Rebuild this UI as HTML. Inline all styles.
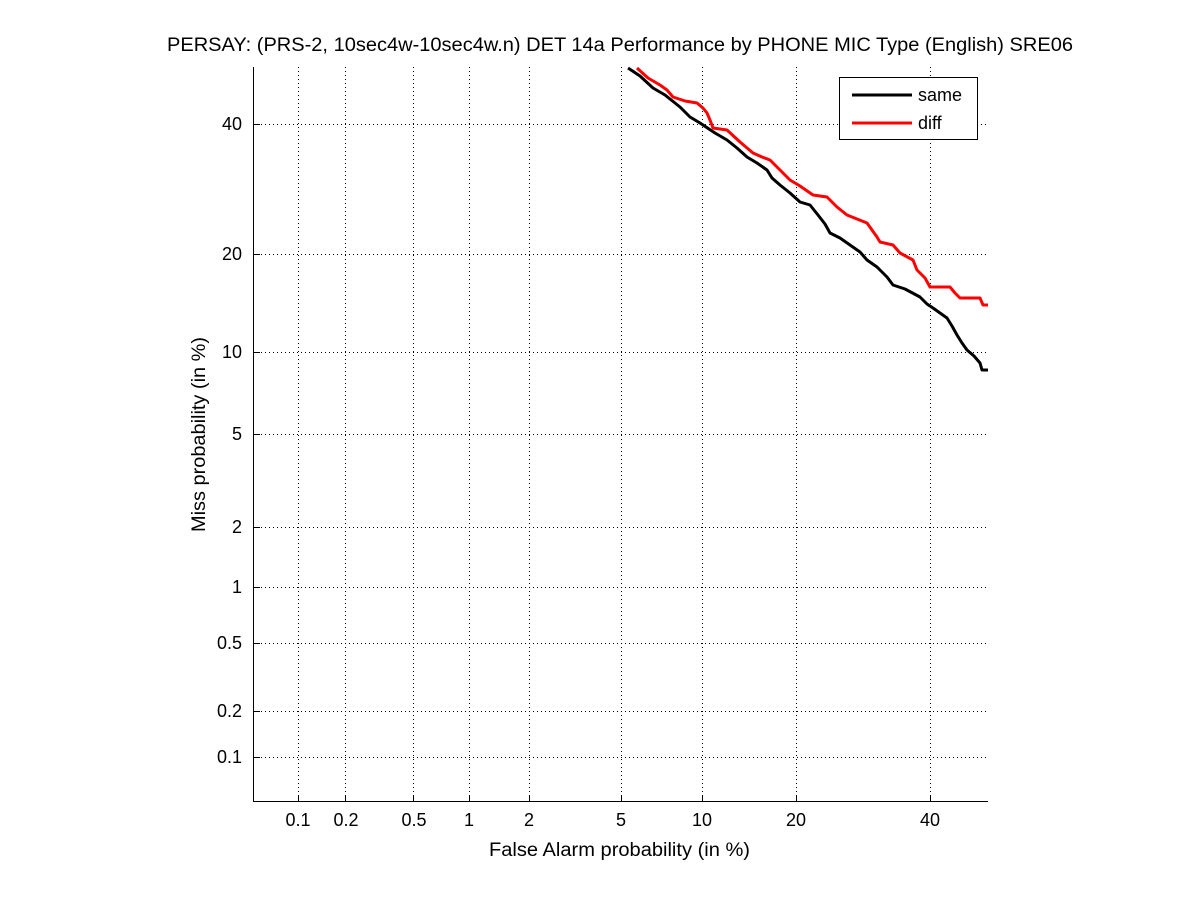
<!DOCTYPE html>
<html><head><meta charset="utf-8"><style>
html,body{margin:0;padding:0;background:#fff;}
svg{display:block;font-family:"Liberation Sans",sans-serif;}
</style></head><body>
<svg width="1200" height="901" viewBox="0 0 1200 901" xmlns="http://www.w3.org/2000/svg">
<rect width="1200" height="901" fill="#fff"/>
<g stroke="#000" stroke-width="1" stroke-dasharray="1,3" fill="none">
<line x1="298.5" y1="67" x2="298.5" y2="802"/>
<line x1="345.5" y1="67" x2="345.5" y2="802"/>
<line x1="413.5" y1="67" x2="413.5" y2="802"/>
<line x1="469.5" y1="67" x2="469.5" y2="802"/>
<line x1="529.5" y1="67" x2="529.5" y2="802"/>
<line x1="621.5" y1="67" x2="621.5" y2="802"/>
<line x1="702.5" y1="67" x2="702.5" y2="802"/>
<line x1="796.5" y1="67" x2="796.5" y2="802"/>
<line x1="930.5" y1="67" x2="930.5" y2="802"/>
<line x1="253" y1="124.5" x2="988" y2="124.5"/>
<line x1="253" y1="254.5" x2="988" y2="254.5"/>
<line x1="253" y1="352.5" x2="988" y2="352.5"/>
<line x1="253" y1="434.5" x2="988" y2="434.5"/>
<line x1="253" y1="527.5" x2="988" y2="527.5"/>
<line x1="253" y1="587.5" x2="988" y2="587.5"/>
<line x1="253" y1="643.5" x2="988" y2="643.5"/>
<line x1="253" y1="711.5" x2="988" y2="711.5"/>
<line x1="253" y1="757.5" x2="988" y2="757.5"/>
</g>
<g stroke="#000" stroke-width="1">
<line x1="253.5" y1="67" x2="253.5" y2="802"/>
<line x1="253" y1="801.5" x2="988" y2="801.5"/>
<line x1="298.5" y1="802" x2="298.5" y2="795"/>
<line x1="345.5" y1="802" x2="345.5" y2="795"/>
<line x1="413.5" y1="802" x2="413.5" y2="795"/>
<line x1="469.5" y1="802" x2="469.5" y2="795"/>
<line x1="529.5" y1="802" x2="529.5" y2="795"/>
<line x1="621.5" y1="802" x2="621.5" y2="795"/>
<line x1="702.5" y1="802" x2="702.5" y2="795"/>
<line x1="796.5" y1="802" x2="796.5" y2="795"/>
<line x1="930.5" y1="802" x2="930.5" y2="795"/>
<line x1="253" y1="124.5" x2="260" y2="124.5"/>
<line x1="253" y1="254.5" x2="260" y2="254.5"/>
<line x1="253" y1="352.5" x2="260" y2="352.5"/>
<line x1="253" y1="434.5" x2="260" y2="434.5"/>
<line x1="253" y1="527.5" x2="260" y2="527.5"/>
<line x1="253" y1="587.5" x2="260" y2="587.5"/>
<line x1="253" y1="643.5" x2="260" y2="643.5"/>
<line x1="253" y1="711.5" x2="260" y2="711.5"/>
<line x1="253" y1="757.5" x2="260" y2="757.5"/>
</g>
<g font-size="18" fill="#000" text-anchor="middle">
<text x="298" y="826">0.1</text>
<text x="346" y="826">0.2</text>
<text x="414" y="826">0.5</text>
<text x="469" y="826">1</text>
<text x="529" y="826">2</text>
<text x="621" y="826">5</text>
<text x="702" y="826">10</text>
<text x="796" y="826">20</text>
<text x="930" y="826">40</text>
</g>
<g font-size="18" fill="#000" text-anchor="end">
<text x="242" y="130">40</text>
<text x="242" y="260">20</text>
<text x="242" y="358">10</text>
<text x="242" y="440">5</text>
<text x="242" y="533">2</text>
<text x="242" y="593">1</text>
<text x="242" y="649">0.5</text>
<text x="242" y="717">0.2</text>
<text x="242" y="763">0.1</text>
</g>
<text x="167" y="51" font-size="19" textLength="906" lengthAdjust="spacingAndGlyphs">PERSAY: (PRS-2, 10sec4w-10sec4w.n) DET 14a Performance by PHONE MIC Type (English) SRE06</text>
<text x="489" y="856" font-size="19" textLength="261" lengthAdjust="spacingAndGlyphs">False Alarm probability (in %)</text>
<text transform="translate(205,532) rotate(-90)" font-size="19" textLength="195" lengthAdjust="spacingAndGlyphs">Miss probability (in %)</text>
<polyline fill="none" stroke="#000" stroke-width="3" stroke-linejoin="round" points="628,68 640,76 653,88 665,95 680,107 690,117 700,123 715,133 727,140 737,148 747,157 757,163 767,170 772,178 780,185 790,193 800,202 810,205 818,215 825,224 830,233 840,238 850,245 860,252 867,260 877,267 887,277 893,285 905,289 920,297 927,304 933,308 940,313 947,318 952,326 957,335 962,343 967,350 974,356 980,363 982,370 988,370"/>
<polyline fill="none" stroke="#f00" stroke-width="3" stroke-linejoin="round" points="637,68 648,78 660,85 667,90 673,97 685,101 697,103 703,108 707,113 710,120 713,128 727,130 740,142 753,153 762,157 770,160 780,170 790,180 800,186 813,195 827,197 837,207 847,215 857,219 867,223 872,230 877,237 880,242 893,245 900,253 913,260 917,270 925,278 930,287 950,287 955,293 960,298 980,298 983,305 988,305"/>
<rect x="839.5" y="77.5" width="138" height="62" fill="#fff" stroke="#000" stroke-width="1"/>
<line x1="852" y1="95" x2="912" y2="95" stroke="#000" stroke-width="3"/>
<line x1="852" y1="123" x2="912" y2="123" stroke="#f00" stroke-width="3"/>
<text x="918" y="101" font-size="18">same</text>
<text x="918" y="129" font-size="18">diff</text>
</svg>
</body></html>
